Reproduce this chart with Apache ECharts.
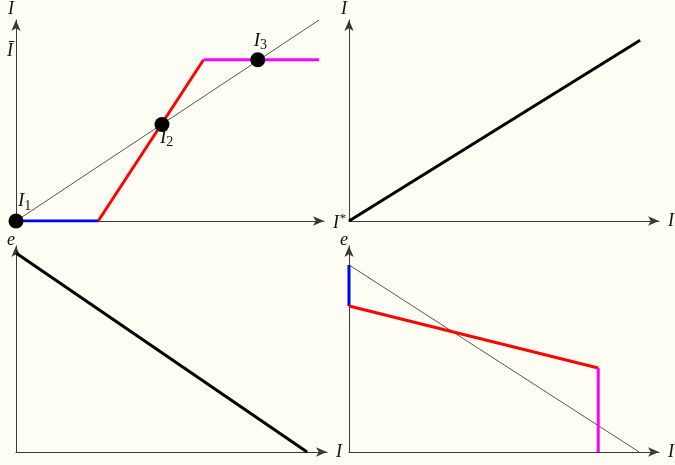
<!DOCTYPE html>
<html>
<head>
<meta charset="utf-8">
<script src="https://cdn.jsdelivr.net/npm/echarts@6/dist/echarts.min.js"></script>
<style>
  html, body { margin: 0; padding: 0; background: #fefef4; }
  #main { width: 675px; height: 465px; }
</style>
</head>
<body>
<div id="main"></div>
<script>
// all values on 0..1 axes (fraction of each panel's axis length)
// top-left: policy segments and the 45-degree line
var blueTL = [[0, 0], [0.267, 0]];
var redTL = [[0.267, 0], [0.609, 0.802]];
var magentaTL = [[0.609, 0.802], [0.984, 0.802]];
var diagTL = [[0, 0], [0.984, 1.0]];
var eqPoints = [[0, 0, '1'], [0.474, 0.48, '2'], [0.785, 0.802, '3']];
var iBar = 0.802;

// top-right
var lineTR = [[0, 0], [0.939, 0.899]];

// bottom-left
var lineBL = [[0, 0.966], [0.936, 0]];

// bottom-right
var blueBR = [[0, 0.908], [0, 0.709]];
var redBR = [[0, 0.709], [0.804, 0.408]];
var magentaBR = [[0.804, 0.408], [0.804, 0]];
var grayBR = [[0, 0.908], [0.936, 0]];

var serif = 'Liberation Serif';
var axisCol = '#3a3a3a';

function xAx(idx, name, pad, rich) {
  return {
    type: 'value', gridIndex: idx, min: 0, max: 1,
    axisLine: { show: true, onZero: false, symbol: ['none', 'arrow'], symbolSize: [7, 11], lineStyle: { color: axisCol, width: 1 } },
    axisTick: { show: false }, axisLabel: { show: false }, splitLine: { show: false },
    name: name, nameLocation: 'end', nameGap: 9,
    nameTextStyle: { fontFamily: serif, fontStyle: 'italic', fontSize: 18, color: '#111', padding: [pad, 0, 0, 0], rich: rich }
  };
}
function yAx(idx, name, gap) {
  return {
    type: 'value', gridIndex: idx, min: 0, max: 1,
    axisLine: { show: true, onZero: false, symbol: ['none', 'arrow'], symbolSize: [7, 11], lineStyle: { color: axisCol, width: 1 } },
    axisTick: { show: false }, axisLabel: { show: false }, splitLine: { show: false },
    name: name, nameLocation: 'end', nameGap: gap,
    nameTextStyle: { fontFamily: serif, fontStyle: 'italic', fontSize: 18, color: '#111', padding: [0, 10, 0, 0] }
  };
}

function seg(data, xi, color, width) {
  return {
    type: 'line', xAxisIndex: xi, yAxisIndex: xi, data: data,
    symbol: 'none', silent: true, z: 3,
    lineStyle: { color: color, width: width }
  };
}

var yTL = yAx(0, 'I', 2);
yTL.axisLabel = {
  show: true, customValues: [iBar], margin: 3,
  fontFamily: serif, fontStyle: 'italic', fontSize: 18, color: '#111',
  verticalAlign: 'bottom',
  formatter: function () { return 'Ī'; }
};

var option = {
  backgroundColor: '#fefef4',
  animation: false,
  grid: [
    { left: 16, top: 14, width: 308, height: 207 },
    { left: 349, top: 14, width: 311, height: 207 },
    { left: 16, top: 246, width: 311, height: 206 },
    { left: 349, top: 246, width: 311, height: 206 }
  ],
  xAxis: [
    xAx(0, '{a|I}{b|*}', 4, { a: { fontFamily: serif, fontStyle: 'italic', fontSize: 18, color: '#111' }, b: { fontFamily: serif, fontSize: 13, color: '#111', padding: [0, 0, 8, 0] } }),
    xAx(1, 'I', 16),
    xAx(2, 'I', 16),
    xAx(3, 'I', 16)
  ],
  yAxis: [yTL, yAx(1, 'I', 2), yAx(2, 'e', -3), yAx(3, 'e', -3)],
  series: [
    seg(diagTL, 0, '#555', 1),
    seg(blueTL, 0, '#0000ee', 3),
    seg(redTL, 0, '#ff0000', 3),
    seg(magentaTL, 0, '#ff00ff', 3),
    {
      type: 'scatter', xAxisIndex: 0, yAxisIndex: 0, data: eqPoints,
      symbolSize: 15, z: 5, itemStyle: { color: '#000', opacity: 1 },
      label: {
        show: true,
        formatter: function (p) { return '{a|I}{b|' + p.data[2] + '}'; },
        rich: {
          a: { fontFamily: serif, fontStyle: 'italic', fontSize: 19, color: '#111' },
          b: { fontFamily: serif, fontSize: 14, color: '#111', padding: [10, 0, 0, 0] }
        }
      },
      labelLayout: function (p) {
        var off = [[2, -20], [-2, 13], [-4, -19]][p.dataIndex];
        return { x: p.rect.x + p.rect.width / 2 + off[0], y: p.rect.y + p.rect.height / 2 + off[1], align: 'left', verticalAlign: 'middle' };
      }
    },
    seg(lineTR, 1, '#000', 3),
    seg(lineBL, 2, '#000', 3),
    seg(grayBR, 3, '#555', 1),
    seg(blueBR, 3, '#0000ee', 3),
    seg(redBR, 3, '#ff0000', 3),
    seg(magentaBR, 3, '#ff00ff', 3)
  ]
};

var chart = echarts.init(document.getElementById('main'));
chart.setOption(option);
</script>
</body>
</html>
